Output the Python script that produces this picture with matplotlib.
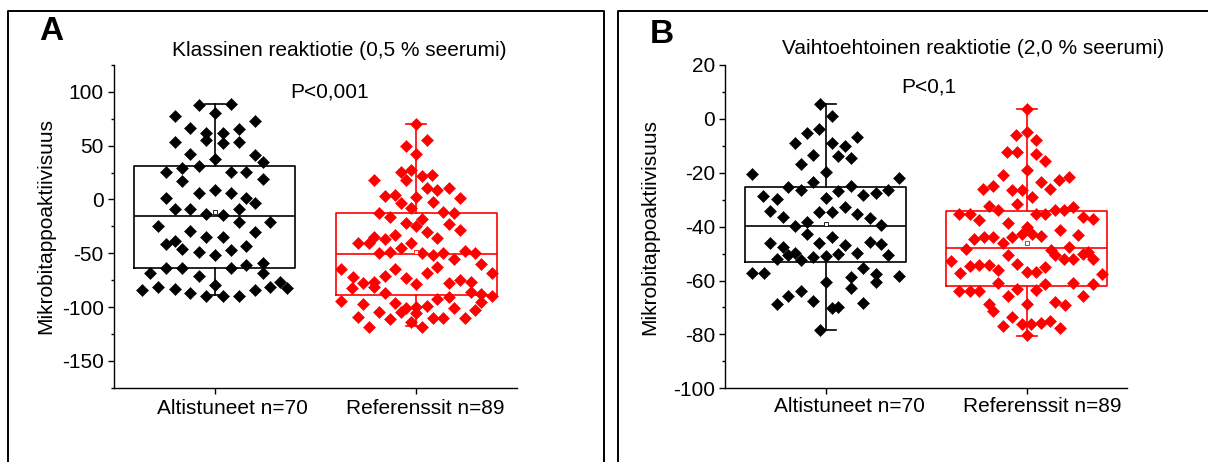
import numpy as np
import matplotlib
matplotlib.use("Agg")
import matplotlib.pyplot as plt
from matplotlib.lines import Line2D
from matplotlib.ticker import MultipleLocator

plt.rcParams['font.family'] = ['Liberation Sans', 'DejaVu Sans']
plt.rcParams['axes.unicode_minus'] = False

# ---------------- data ----------------
categories = ["Altistuneet n=70", "Referenssit n=89"]
titles = ["Klassinen reaktiotie (0,5 % seerumi)", "Vaihtoehtoinen reaktiotie (2,0 % seerumi)"]
pvalues = ["P<0,001", "P<0,1"]
panel_letters = ["A", "B"]
ylabel = "Mikrobitappoaktiivisuus"

# Panel A, exposed (Altistuneet)
a_exp_values = [88.2, 89.2, 80.8, 77.4, 73.1, 66.6, 65.9, 61.9, 61.9, 55.1,
                52.6, 53.6, 53.6, 42.1, 41.2, 35.0, 37.2, 31.0, 29.7, 25.1,
                25.1, 25.1, 17.3, 18.9, 5.6, 8.7, 6.2, 0.9, 0.9, -3.7,
                -9.3, -9.3, -9.3, -13.6, -14.6, -20.7, -24.5, -20.7, -29.1, -30.0,
                -35.3, -35.3, -41.5, -38.4, -46.4, -48.6, -47.1, -51.7, -43.3, -64.1,
                -64.1, -64.1, -61.0, -58.8, -68.1, -71.2, -68.7, -79.6, -84.2, -81.1,
                -83.6, -86.7, -89.8, -89.8, -89.8, -84.2, -81.1, -76.5, -82.7]
a_exp_jitter = [-0.079, 0.079, 0.0, -0.198, 0.198, -0.121, 0.121, -0.041, 0.041, -0.041,
                0.041, 0.121, -0.198, -0.121, 0.198, 0.240, 0.0, -0.079, -0.160, -0.240,
                0.079, 0.157, -0.160, 0.240, -0.079, 0.0, 0.079, -0.240, 0.157, 0.198,
                -0.198, -0.121, 0.121, -0.041, 0.041, 0.121, -0.281, 0.276, -0.121, 0.198,
                -0.041, 0.041, -0.240, -0.198, -0.160, -0.079, 0.079, 0.0, 0.157, -0.240,
                -0.160, 0.079, 0.157, 0.240, -0.322, -0.079, 0.240, 0.0, -0.359, -0.281,
                -0.198, -0.121, -0.041, 0.041, 0.121, 0.198, 0.276, 0.322, 0.359]

# Panel A, references (Referenssit)
a_ref_values = [70.6, 55.7, 49.5, 41.8, 27.8, 25.7, 21.6, 22.6, 17.9, 17.9,
                11.1, 8.6, 10.2, 3.4, 4.0, 1.5, 2.4, -3.7, -2.2, -8.4,
                -13.0, -16.7, -11.5, -13.0, -22.3, -24.8, -18.6, -23.2, -30.1, -28.5,
                -40.3, -40.3, -34.7, -37.2, -33.1, -40.3, -36.2, -50.2, -48.6, -44.9,
                -50.2, -51.7, -50.2, -54.9, -48.0, -50.2, -64.7, -60.4, -71.9, -77.4,
                -76.5, -71.3, -64.7, -73.4, -79.0, -68.1, -63.2, -78.0, -74.9, -76.5,
                -68.7, -82.7, -81.1, -86.7, -85.7, -87.9, -94.4, -97.5, -96.6, -101.2,
                -99.7, -99.1, -92.9, -90.4, -89.8, -95.0, -104.3, -109.0, -104.6, -111.4,
                -113.6, -118.3, -118.3, -110.5, -110.5, -101.2, -110.5, -102.8, -105.5]
a_ref_jitter = [0.0, 0.055, -0.051, 0.0, -0.025, -0.078, 0.030, 0.079, -0.053, -0.210,
                0.055, 0.104, 0.162, -0.157, -0.103, 0.217, 0.0, -0.078, 0.083, -0.025,
                -0.185, -0.131, 0.132, 0.187, -0.053, 0.0, 0.030, 0.162, 0.055, 0.217,
                -0.289, -0.235, -0.210, -0.157, -0.103, -0.025, 0.104, -0.185, -0.131, -0.078,
                0.030, 0.083, 0.132, 0.187, 0.241, 0.294, -0.372, 0.319, -0.314, -0.263,
                -0.210, -0.157, -0.103, -0.053, 0.0, 0.055, 0.104, 0.162, 0.217, 0.270,
                0.374, -0.317, -0.210, -0.157, 0.270, 0.319, -0.372, -0.263, -0.103, -0.053,
                0.0, 0.055, 0.104, 0.162, 0.374, 0.319, -0.078, -0.289, -0.185, -0.131,
                -0.028, 0.030, -0.235, 0.083, 0.132, 0.187, 0.241, 0.294, -0.003]

# Panel B, exposed
b_exp_values = [5.7, 1.1, -3.6, -5.2, -6.9, -9.1, -8.9, -10.0, -13.5, -13.7,
                -14.7, -16.8, -20.5, -19.9, -21.9, -23.6, -25.2, -26.5, -26.7, -25.0,
                -28.3, -27.4, -26.5, -28.7, -29.8, -29.5, -34.2, -36.3, -34.5, -34.7,
                -32.6, -35.4, -36.7, -39.7, -38.2, -39.4, -42.9, -44.0, -46.2, -47.7,
                -46.0, -46.8, -45.6, -46.5, -52.0, -50.6, -49.9, -52.4, -51.2, -50.8,
                -50.2, -49.7, -50.6, -57.1, -57.1, -60.4, -58.8, -55.5, -57.4, -60.4,
                -58.2, -63.8, -62.9, -65.8, -68.7, -67.5, -70.3, -69.7, -68.2, -78.4]
b_exp_jitter = [-0.030, 0.031, -0.033, -0.093, 0.155, -0.154, 0.031, 0.094, -0.063, 0.061,
                0.124, -0.124, -0.369, 0.0, 0.367, -0.063, -0.187, -0.124, 0.061, 0.124,
                0.185, 0.248, 0.309, -0.311, -0.245, 0.0, -0.278, -0.215, -0.033, 0.031,
                0.094, 0.155, 0.218, -0.154, -0.093, 0.276, -0.093, 0.031, -0.278, -0.215,
                -0.033, 0.094, 0.218, 0.276, -0.245, -0.187, -0.154, -0.124, -0.063, 0.0,
                0.061, 0.155, 0.309, -0.369, -0.308, 0.0, 0.124, 0.185, 0.248, 0.248,
                0.367, -0.124, 0.124, -0.187, -0.245, -0.063, 0.031, 0.061, 0.185, -0.030]

# Panel B, references
b_ref_values = [3.7, -5.9, -5.0, -8.0, -12.4, -12.4, -13.2, -15.7, -18.8, -20.8,
                -26.0, -25.0, -23.5, -22.6, -21.4, -26.4, -26.4, -26.0, -29.1, -31.6,
                -32.5, -33.8, -35.3, -35.3, -33.7, -33.7, -32.8, -35.3, -35.3, -37.7,
                -36.5, -37.1, -38.7, -40.0, -41.2, -44.6, -43.7, -43.9, -43.9, -42.9,
                -42.9, -43.3, -43.1, -46.2, -48.3, -47.4, -48.6, -50.7, -52.0, -52.0,
                -50.1, -49.5, -52.0, -50.4, -52.8, -54.5, -54.1, -54.1, -56.1, -53.8,
                -56.9, -56.9, -54.8, -57.3, -57.5, -61.0, -61.3, -61.0, -61.3, -63.7,
                -63.7, -63.7, -63.1, -63.4, -65.8, -65.6, -68.7, -68.1, -68.9, -68.7,
                -71.4, -73.6, -76.7, -76.1, -76.1, -75.7, -74.9, -77.6, -80.4]
b_ref_jitter = [0.0, -0.053, 0.0, 0.046, -0.099, -0.050, 0.046, 0.093, 0.0, -0.119,
                -0.215, -0.165, 0.071, 0.162, 0.212, -0.073, -0.023, 0.116, 0.026, -0.050,
                -0.188, -0.141, 0.046, 0.093, 0.142, 0.187, 0.233, -0.334, -0.284, -0.238,
                0.283, 0.331, -0.094, 0.0, 0.165, -0.260, -0.210, -0.165, -0.073, -0.023,
                0.026, 0.071, 0.258, -0.119, -0.304, 0.212, 0.121, 0.142, 0.187, 0.233,
                0.281, 0.308, 0.331, -0.094, -0.375, -0.284, -0.235, -0.188, -0.141, -0.050,
                0.0, 0.046, 0.093, -0.331, 0.374, -0.141, 0.093, 0.233, 0.331, -0.334,
                -0.284, -0.235, -0.050, 0.046, -0.094, 0.281, 0.0, 0.142, 0.190, -0.188,
                -0.165, -0.073, -0.119, -0.023, 0.021, 0.071, 0.116, 0.165, 0.0]

# box statistics (q1, median, q3, whisker low, whisker high, mean)
a_exp_box = [-64.0, -15.2, 31.2, -89.0, 88.5, -12.0]
a_ref_box = [-88.6, -51.0, -13.0, -118.0, 70.3, -49.0]
b_exp_box = [-53.3, -39.7, -25.3, -78.5, 5.6, -39.0]
b_ref_box = [-62.0, -48.0, -34.3, -80.5, 3.7, -45.9]

ylims = [(-175, 125), (-100, 20)]
ymajor = [50, 20]
yminor = [25, 10]

# ---------------- figure ----------------
W, H = 1208, 462
fig = plt.figure(figsize=(W / 100, H / 100), dpi=100)
fig.patch.set_facecolor('white')

def fx(x):
    return x / W

def fy(y):
    return 1 - y / H

# panel frames
frame_kw = dict(color='black', linewidth=1.4, transform=fig.transFigure, clip_on=False)
fig.add_artist(Line2D([fx(7.7), fx(7.7), fx(603.5), fx(603.5)],
                      [fy(470), fy(10.7), fy(10.7), fy(470)], **frame_kw))
fig.add_artist(Line2D([fx(617.5), fx(617.5), fx(1215)],
                      [fy(470), fy(10.7), fy(10.7)], **frame_kw))

axes_px = [(113.9, 517.0, 65.0, 387.7), (725.3, 1127.0, 65.0, 388.3)]
groups = [
    [(a_exp_values, a_exp_jitter, a_exp_box, 'black'), (a_ref_values, a_ref_jitter, a_ref_box, '#ff0000')],
    [(b_exp_values, b_exp_jitter, b_exp_box, 'black'), (b_ref_values, b_ref_jitter, b_ref_box, '#ff0000')],
]
# category label centres (px) as placed in the original figure
catlabel_px = [((232.2, 408.3), (425.1, 408.3)), ((849.0, 406.7), (1042.0, 406.7))]

FS = 15
for i in range(2):
    l, r, t, b = axes_px[i]
    ax = fig.add_axes([fx(l), fy(b), (r - l) / W, (b - t) / H])
    for j, (vals, jit, bx, col) in enumerate(groups[i]):
        pos = j + 1
        n = min(len(vals), len(jit))
        xs = pos + np.asarray(jit[:n])
        ax.plot(xs, vals[:n], linestyle='none', marker='D', markersize=6.3,
                markerfacecolor=col, markeredgecolor=col, markeredgewidth=0.4, zorder=3)
        stats = [dict(q1=bx[0], med=bx[1], q3=bx[2], whislo=bx[3], whishi=bx[4],
                      mean=bx[5], fliers=[])]
        lp = dict(color=col, linewidth=1.2)
        ax.bxp(stats, positions=[pos], widths=0.8, showmeans=True, showfliers=False,
               capwidths=0.1, boxprops=lp, whiskerprops=lp, capprops=lp,
               medianprops=lp,
               meanprops=dict(marker='s', markersize=2.8, markerfacecolor='white',
                              markeredgecolor=col, markeredgewidth=0.6),
               zorder=4)
    ax.set_xlim(0.5, 2.5)
    ax.set_ylim(*ylims[i])
    ax.yaxis.set_major_locator(MultipleLocator(ymajor[i]))
    ax.yaxis.set_minor_locator(MultipleLocator(yminor[i]))
    ax.set_xticks([1, 2])
    ax.set_xticklabels([])
    ax.tick_params(axis='both', which='major', direction='out', length=4.3, width=1.0,
                   labelsize=FS, pad=3)
    ax.tick_params(axis='y', which='minor', direction='out', length=2.3, width=1.0)
    for s in ['top', 'right']:
        ax.spines[s].set_visible(False)
    for s in ['left', 'bottom']:
        ax.spines[s].set_linewidth(1.0)
    ax.set_facecolor('none')
    for k, (cx, cy) in enumerate(catlabel_px[i]):
        fig.text(fx(cx), fy(cy), categories[k], fontsize=FS, ha='center', va='center')

# texts
fig.text(fx(338.8), fy(50), titles[0], fontsize=FS, ha='center', va='center')
fig.text(fx(972.8), fy(48), titles[1], fontsize=FS, ha='center', va='center')
fig.text(fx(329.5), fy(92), pvalues[0], fontsize=FS, ha='center', va='center')
fig.text(fx(928.4), fy(87.3), pvalues[1], fontsize=FS, ha='center', va='center')
fig.text(fx(51), fy(31.7), panel_letters[0], fontsize=24, fontweight='bold', ha='center', va='center')
fig.text(fx(661.7), fy(34.2), panel_letters[1], fontsize=24, fontweight='bold', ha='center', va='center')
fig.text(fx(45.6), fy(225.8), ylabel, fontsize=FS, rotation=90, ha='center', va='center')
fig.text(fx(649.5), fy(226.7), ylabel, fontsize=FS, rotation=90, ha='center', va='center')

fig.savefig("out.png", dpi=100, facecolor='white')
